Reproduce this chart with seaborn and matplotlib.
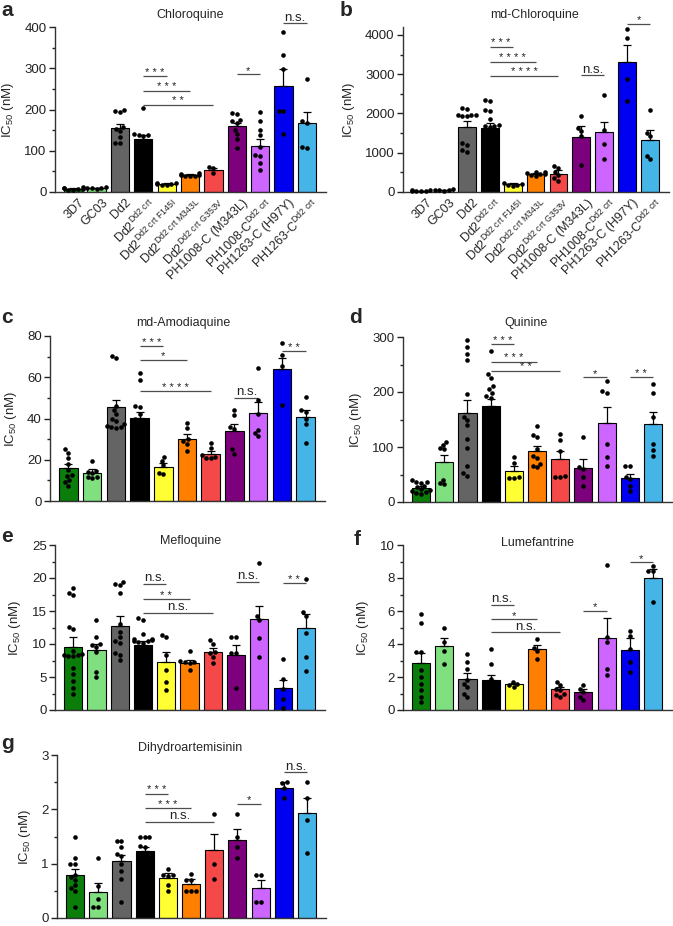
import numpy as np
import pandas as pd
import matplotlib
matplotlib.use("Agg")
import matplotlib.pyplot as plt
import matplotlib.transforms as mtrans
from matplotlib.ticker import MultipleLocator, AutoMinorLocator
import seaborn as sns

sns.set_theme(style="ticks")
plt.rcParams["font.family"] = ["Liberation Sans", "DejaVu Sans"]
plt.rcParams["mathtext.fontset"] = "custom"
plt.rcParams["mathtext.rm"] = "Liberation Sans"
plt.rcParams["mathtext.default"] = "rm"

# ---------------- data ----------------
strains = ["3D7", "GC03", "Dd2", "Dd2 Dd2crt", "Dd2 F145I", "Dd2 M343L", "Dd2 G353V",
           "PH1008-C M343L", "PH1008-C Dd2crt", "PH1263-C H97Y", "PH1263-C Dd2crt"]
tick_labels = ["3D7", "GC03", "Dd2", r"Dd2$^{Dd2\ crt}$", r"Dd2$^{Dd2\ crt\ F145I}$",
               r"Dd2$^{Dd2\ crt\ M343L}$", r"Dd2$^{Dd2\ crt\ G353V}$", "PH1008-C (M343L)",
               r"PH1008-C$^{Dd2\ crt}$", "PH1263-C (H97Y)", r"PH1263-C$^{Dd2\ crt}$"]
colors = ["#0a7d0a", "#80e080", "#646464", "#000000", "#ffff33", "#ff8000",
          "#f54848", "#7d007d", "#cc66ff", "#0000f0", "#45b4e6"]

# a: Chloroquine
cq_mean = [8, 9, 156, 128, 20, 42, 54, 159, 112, 257, 168]
cq_sem = [1.5, 1.2, 9, 9, 1.5, 2, 4, 9, 17, 41, 27]
cq_pts = [[12, 10, 9, 8, 7, 6, 5], [11, 10, 9, 9, 7],
          [199, 194, 197, 157, 153, 148, 134, 120, 118],
          [203, 141, 138, 137, 135, 115, 105, 95, 83],
          [23, 21, 20, 19, 18, 17], [45, 43, 42, 41, 40, 39, 38], [60, 58, 45],
          [192, 188, 175, 172, 168, 150, 140, 128, 106],
          [194, 172, 150, 138, 110, 90, 88, 70, 53],
          [388, 333, 299, 197, 196, 140], [274, 171, 168, 108, 106]]
cq_sig = [(3, 4, 281, "***"), (3, 5, 246, "***"), (3, 6, 211, "**"), (7, 8, 285, "*"), (9, 10, 409, "n.s.")]

# b: md-Chloroquine
mcq_mean = [30, 45, 1664, 1638, 200, 460, 470, 1409, 1520, 3303, 1325]
mcq_sem = [8, 8, 136, 112, 20, 30, 80, 272, 270, 450, 255]
mcq_pts = [[60, 45, 35, 25, 20, 15], [75, 60, 50, 40, 35],
           [2140, 2120, 1950, 1950, 1940, 1960, 1930, 1240, 1200, 1080, 1030],
           [2330, 2310, 2080, 2070, 1860, 1700, 1690, 1680, 1660, 1100, 900, 700],
           [240, 210, 190, 180, 160], [520, 500, 480, 460, 450, 430, 400],
           [670, 620, 510, 430, 350, 290], [1930, 1640, 1550, 1420, 700],
           [2470, 1580, 1210, 830], [4160, 3910, 2880, 2320], [2090, 1500, 1420, 830, 910]]
mcq_sig = [(3, 4, 3700, "***"), (3, 5, 3310, "****"), (3, 6, 2955, "****"), (7, 8, 2973, "n.s."), (9, 10, 4280, "*")]

# c: md-Amodiaquine
mad_mean = [15.8, 13.7, 45.4, 40.2, 16.6, 30, 22.8, 33.9, 42.5, 63.8, 40.8]
mad_sem = [2.0, 1.6, 3.8, 2.8, 1.6, 2.3, 1.6, 3.2, 5.5, 5.3, 3.2]
mad_pts = [[25, 23.5, 21, 18, 15, 12.5, 12, 10, 9, 7.5], [19.4, 14.5, 14, 13.5, 11.5, 11.5, 11],
           [70.5, 69.5, 46, 44, 42, 40, 39, 37.5, 36.5, 36, 35.5, 36],
           [62, 58.5, 46, 45.5, 42, 40, 39, 36, 35, 34, 33],
           [21.5, 19.5, 17.4, 13.4, 13.2], [38, 35.5, 30, 29, 27.5, 24.2],
           [28, 25.5, 22.5, 21.5, 21, 21], [44, 41.5, 36, 35, 25, 23],
           [64.3, 48.9, 42, 34.4, 33, 31.5], [76.8, 70.7, 65.4, 46.5], [50.5, 44, 43, 40, 37.5, 28.2]]
mad_sig = [(3, 4, 75, "***"), (3, 5, 68.3, "*"), (3, 6, 53.3, "****"), (7, 8, 50, "n.s."), (9, 10, 72.6, "**")]

# d: Quinine
qn_mean = [25, 72, 162, 174, 56.4, 93.3, 78, 61, 143.6, 43, 141]
qn_sem = [5, 13, 24, 14, 9.6, 9, 15, 16.6, 29.4, 8, 23]
qn_pts = [[40, 37, 36, 35, 30, 28, 24, 22, 20, 18, 17, 15], [110, 104, 98, 96, 40, 34, 32],
          [294, 282, 270, 259, 196, 155, 150, 140, 114, 98, 65, 52, 48],
          [274, 233, 226, 211, 205, 198, 193, 190, 150, 140, 120, 110, 100],
          [82, 71, 45, 44, 44], [138, 122, 118, 96, 83, 80, 70, 66, 63],
          [124, 113, 93, 47, 45, 45], [119, 64, 60, 46, 29],
          [220, 201, 199, 105, 81, 65], [65, 65, 46, 42, 29, 20], [214, 198, 154, 105, 94, 84]]
qn_sig = [(3, 4, 287, "***"), (3, 5, 255, "***"), (3, 6, 239, "**"), (7, 8, 227, "*"), (9, 10, 227, "**")]

# e: Mefloquine
mq_mean = [9.6, 9.1, 12.8, 9.9, 7.25, 7.15, 8.75, 8.4, 13.8, 3.4, 12.4]
mq_sem = [1.4, 0.9, 1.4, 0.5, 1.55, 0.45, 0.65, 1.5, 2.0, 1.2, 2.1]
mq_pts = [[18.5, 17.8, 17.4, 12.6, 12.2, 9, 8.5, 8.3, 8.2, 8.2, 8.3, 6.4, 5.5, 4.4, 3.4, 2.4],
          [13.6, 11, 10, 9.8, 9.5, 8.8, 5.8, 5.0],
          [19.4, 19.1, 18.9, 17.7, 13.1, 11.8, 11, 10.5, 10.2, 8.6, 8.4, 7.6],
          [13.9, 13.7, 11.5, 10.8, 10.7, 10.6, 10.5, 10.4, 10.3, 10.2, 7, 6, 5],
          [11.4, 11.1, 8.3, 6.0, 4.2, 3.0], [9.0, 7.4, 7.3, 7.2, 7.1, 6.0],
          [10.6, 10.0, 8.8, 8.6, 8.0, 7.1], [11.0, 11.0, 8.7, 8.6, 3.3],
          [22.2, 14.2, 13.6, 10.9, 8.1], [7.7, 4.7, 3.2, 1.6, 0.3], [19.8, 14.9, 14.3, 11.7, 8.1, 5.9]]
mq_sig = [(3, 4, 19.1, "n.s."), (3, 5, 16.8, "**"), (3, 6, 14.7, "n.s."), (7, 8, 19.4, "n.s."), (9, 10, 19.2, "**")]

# f: Lumefantrine
lf_mean = [2.83, 3.88, 1.9, 1.8, 1.55, 3.68, 1.25, 1.1, 4.38, 3.64, 7.98]
lf_sem = [0.65, 0.5, 0.35, 0.3, 0.1, 0.26, 0.15, 0.2, 1.2, 0.75, 0.55]
lf_pts = [[5.8, 5.3, 3.5, 3.5, 2.4, 2.0, 1.6, 1.2, 0.8, 0.5], [5.0, 4.1, 3.6, 2.8],
          [3.4, 2.9, 2.5, 1.8, 1.6, 1.4, 1.0, 0.8], [3.7, 2.8, 1.9, 1.6, 1.3, 0.9, 0.7],
          [1.7, 1.6, 1.5, 1.4], [4.3, 3.75, 3.55, 3.1], [1.7, 1.5, 1.3, 1.2, 1.0, 0.9, 0.8],
          [1.5, 1.3, 1.1, 0.8, 0.6], [8.8, 4.4, 4.1, 2.5, 2.1], [4.8, 4.5, 3.7, 2.9, 2.3],
          [8.7, 8.45, 8.4, 6.55]]
lf_sig = [(3, 4, 6.38, "n.s."), (3, 5, 5.5, "*"), (3, 6, 4.7, "n.s."), (7, 8, 6.0, "*"), (9, 10, 8.95, "*")]

# g: Dihydroartemisinin
dha_mean = [0.79, 0.47, 1.04, 1.24, 0.73, 0.63, 1.26, 1.44, 0.55, 2.39, 1.93]
dha_sem = [0.11, 0.18, 0.12, 0.06, 0.09, 0.08, 0.29, 0.19, 0.15, 0.11, 0.28]
dha_pts = [[1.5, 1.1, 1.0, 1.0, 0.8, 0.75, 0.7, 0.6, 0.55, 0.5, 0.2], [1.1, 0.58, 0.35, 0.21, 0.2],
           [1.41, 1.41, 1.3, 1.18, 1.15, 1.0, 0.87, 0.71, 0.3],
           [1.5, 1.5, 1.5, 1.32, 1.3, 1.15, 1.05, 1.0, 0.9],
           [0.91, 0.8, 0.79, 0.78, 0.61, 0.5], [0.81, 0.7, 0.7, 0.5, 0.5, 0.5],
           [1.91, 1.0, 0.71], [1.91, 1.5, 1.3, 1.1], [0.8, 0.8, 0.3, 0.3],
           [2.5, 2.48, 2.4, 2.2], [2.5, 2.21, 1.8, 1.2]]
dha_sig = [(3, 4, 2.29, "***"), (3, 5, 2.02, "***"), (3, 6, 1.77, "n.s."), (7, 8, 2.1, "*"), (9, 10, 2.68, "n.s.")]

# ---------------- figure ----------------
W, H = 673, 926
fig = plt.figure(figsize=(W / 100, H / 100), dpi=100)


def px_rect(left, top, right, bottom):
    return [left / W, 1 - bottom / H, (right - left) / W, (bottom - top) / H]


def draw(rect, means, sem, pts, sig, ymax, major, show_labels, title, title_xy, letter, letter_xy):
    ax = fig.add_axes(px_rect(*rect))
    df_bar = pd.DataFrame({"strain": strains, "mean": means})
    sns.barplot(data=df_bar, x="strain", y="mean", hue="strain", order=strains, hue_order=strains,
                palette=colors, legend=False, width=0.78, edgecolor="black", linewidth=0.8,
                saturation=1, errorbar=None, ax=ax, zorder=2)
    ax.errorbar(np.arange(len(strains)), means, yerr=[np.zeros(len(strains)), sem], fmt="none",
                ecolor="black", elinewidth=0.9, capsize=2.6, capthick=0.9, zorder=3)
    rows = [(s, v) for s, vals in zip(strains, pts) for v in vals]
    df_pts = pd.DataFrame(rows, columns=["strain", "value"])
    sns.swarmplot(data=df_pts, x="strain", y="value", order=strains, color="black", size=3.3,
                  ax=ax, zorder=4, clip_on=False)
    for x1, x2, y, lab in sig:
        ax.plot([x1, x2], [y, y], color="#4d4d4d", lw=0.9, clip_on=False, solid_capstyle="butt")
        star = lab.startswith("*")
        ax.annotate(" ".join(lab) if star else lab, xy=((x1 + x2) / 2, y),
                    xytext=(0, 0.4 if star else 1.8), textcoords="offset points",
                    ha="center", va="baseline", fontsize=8 if star else 9.5,
                    color="#222222", annotation_clip=False)
    ax.set_xlim(-0.78, 10.82)
    ax.set_ylim(0, ymax)
    ax.yaxis.set_major_locator(MultipleLocator(major))
    ax.yaxis.set_minor_locator(AutoMinorLocator(2))
    ax.tick_params(axis="y", which="major", length=4, width=1, labelsize=9.5, pad=2, colors="#222222")
    ax.tick_params(axis="y", which="minor", length=2.5, width=1, colors="#222222")
    ax.tick_params(axis="x", length=0)
    sns.despine(ax=ax)
    for sp in ("left", "bottom"):
        ax.spines[sp].set_linewidth(1)
        ax.spines[sp].set_color("#333333")
    ax.set_xlabel("")
    ax.set_ylabel("IC$_{50}$ (nM)", fontsize=9.5, labelpad=6)
    ax.set_xticks(np.arange(len(strains)))
    if show_labels:
        ax.set_xticklabels(tick_labels, rotation=45, ha="right", va="top",
                           rotation_mode="anchor", fontsize=9)
        off = mtrans.ScaledTranslation(5 / 100, 0, fig.dpi_scale_trans)
        for lab in ax.get_xticklabels():
            lab.set_transform(lab.get_transform() + off)
    else:
        ax.set_xticklabels([])
    fig.text(title_xy[0] / W, 1 - title_xy[1] / H, title, ha="center", va="baseline", fontsize=9)
    fig.text(letter_xy[0] / W, 1 - letter_xy[1] / H, letter, ha="left", va="baseline",
             fontsize=15, fontweight="bold")
    return ax


draw((55, 27, 326, 192), cq_mean, cq_sem, cq_pts, cq_sig, 400, 100, True,
     "Chloroquine", (190, 18), "a", (1, 16))
draw((403, 27, 669, 192), mcq_mean, mcq_sem, mcq_pts, mcq_sig, 4200, 1000, True,
     "md-Chloroquine", (535, 18), "b", (340, 16))
draw((50, 336, 325, 501), mad_mean, mad_sem, mad_pts, mad_sig, 80, 20, False,
     "md-Amodiaquine", (183, 326), "c", (1, 323))
draw((403, 337, 672, 502), qn_mean, qn_sem, qn_pts, qn_sig, 300, 100, False,
     "Quinine", (526, 326), "d", (349, 323))
draw((55, 545, 325, 710), mq_mean, mq_sem, mq_pts, mq_sig, 25, 5, False,
     "Mefloquine", (191, 544), "e", (1, 542))
draw((403, 545, 672, 710), lf_mean, lf_sem, lf_pts, lf_sig, 10, 2, False,
     "Lumefantrine", (538, 546), "f", (354, 545))
draw((57, 755, 326, 918), dha_mean, dha_sem, dha_pts, dha_sig, 3, 1, False,
     "Dihydroartemisinin", (190, 751), "g", (1, 749))

fig.savefig("out.png", dpi=100)
